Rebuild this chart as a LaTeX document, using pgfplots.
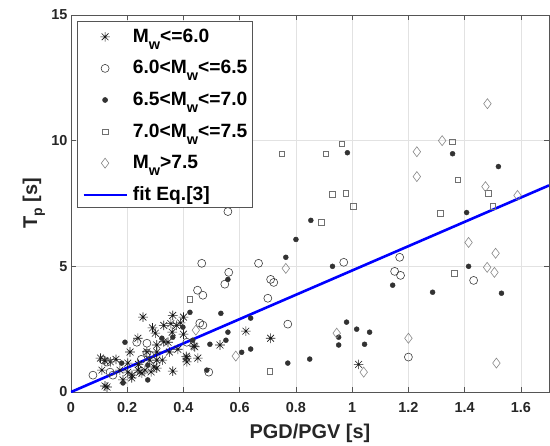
\documentclass[border=0pt]{standalone}
\usepackage{fontspec}
\setmainfont{Liberation Sans}
\usepackage{pgfplots}
\pgfplotsset{compat=1.18}
\usetikzlibrary{plotmarks}

\definecolor{axgray}{RGB}{85,85,85}
\definecolor{gridgray}{RGB}{226,226,226}
\definecolor{circgray}{RGB}{60,60,60}
\definecolor{dotgray}{RGB}{50,50,50}
\definecolor{sqgray}{RGB}{112,112,112}
\definecolor{diagray}{RGB}{135,135,135}
\definecolor{fitblue}{RGB}{0,0,255}

% MATLAB-like asterisk: plus and cross together
\pgfdeclareplotmark{mast}{%
  \pgfpathmoveto{\pgfqpoint{-\pgfplotmarksize}{0pt}}\pgfpathlineto{\pgfqpoint{\pgfplotmarksize}{0pt}}%
  \pgfpathmoveto{\pgfqpoint{0pt}{-\pgfplotmarksize}}\pgfpathlineto{\pgfqpoint{0pt}{\pgfplotmarksize}}%
  \pgfpathmoveto{\pgfqpoint{-.7071\pgfplotmarksize}{-.7071\pgfplotmarksize}}\pgfpathlineto{\pgfqpoint{.7071\pgfplotmarksize}{.7071\pgfplotmarksize}}%
  \pgfpathmoveto{\pgfqpoint{-.7071\pgfplotmarksize}{.7071\pgfplotmarksize}}\pgfpathlineto{\pgfqpoint{.7071\pgfplotmarksize}{-.7071\pgfplotmarksize}}%
  \pgfusepathqstroke}

\newcommand{\subw}{\smash{\raisebox{-7bp}{\fontsize{14.5}{14}\selectfont w}}}

\begin{document}
\begin{tikzpicture}
\begin{axis}[
    scale only axis,
    width=478bp, height=377bp,
    xmin=0, xmax=1.7, ymin=0, ymax=15,
    xtick={0,0.2,0.4,0.6,0.8,1,1.2,1.4,1.6},
    xticklabels={0,0.2,0.4,0.6,0.8,1,1.2,1.4,1.6},
    ytick={0,5,10,15},
    yticklabels={0,5,10,15},
    grid=major,
    major grid style={gridgray, line width=0.6bp},
    tick align=inside,
    major tick length=5bp,
    axis line style={axgray, line width=0.6bp},
    tick style={axgray, line width=0.6bp},
    ticklabel style={font=\fontsize{14.5}{16}\selectfont\bfseries, text=black!85},
    xticklabel style={yshift=-7bp},
    xlabel={PGD/PGV [s]},
    ylabel={T\smash{\raisebox{-5bp}{\fontsize{14}{14}\selectfont p}} [s]},
    every axis x label/.style={at={(rel axis cs:0.5,0)}, yshift=-41bp, anchor=center,
        font=\fontsize{20}{22}\selectfont\bfseries, text=black!85},
    every axis y label/.style={at={(rel axis cs:0,0.5)}, xshift=-39bp, rotate=90, anchor=center,
        font=\fontsize{20}{22}\selectfont\bfseries, text=black!85},
    legend image code/.code={\draw[mark repeat=2,mark phase=2,#1] plot coordinates {(0bp,-1.5bp) (21.5bp,-1.5bp) (43bp,-1.5bp)};},
    legend style={at={(6/478,1-6/377)}, anchor=north west,
        draw=axgray, line width=0.6bp, fill=white,
        font=\fontsize{19.3}{21}\selectfont\bfseries,
        inner xsep=5bp, inner ysep=3bp, row sep=9.6bp, column sep=5bp,
        nodes={inner sep=0pt, text height=18bp, text depth=4bp}},
    legend cell align=left,
]
% Mw <= 6.0
\addplot[only marks, mark=mast, mark size=4.8bp, black!90, line width=0.6bp] coordinates {
(0.11,0.87) (0.128,0.2) (0.121,0.24) (0.105,1.35) (0.12,1.25) (0.14,1.2) (0.174,0.87)
(0.185,0.48) (0.21,1.59) (0.238,2.14) (0.217,0.67) (0.238,0.87) (0.252,0.75) (0.256,2.98)
(0.28,1.27) (0.295,1.0) (0.305,1.27) (0.325,1.27) (0.263,0.87) (0.30,2.34) (0.305,1.87)
(0.305,1.59) (0.35,1.59) (0.345,1.98) (0.36,2.38) (0.33,2.65) (0.355,2.72) (0.375,2.65)
(0.39,2.75) (0.362,3.05) (0.40,2.98) (0.412,1.35) (0.412,1.2) (0.44,1.8) (0.451,1.35)
(0.362,0.83) (0.53,1.87) (0.622,2.42) (0.71,2.14) (1.023,1.1) (0.437,1.83) (0.202,1.15)
(0.24,1.1) (0.16,1.3) (0.27,1.6) (0.33,2.0) (0.29,2.55) (0.38,1.7) (0.202,0.79)
(0.216,0.56) (0.245,0.79) (0.305,0.95) (0.285,0.8) (0.41,1.42) (0.40,2.3)
};
\addlegendentry{M\subw<=6.0}
% 6.0 < Mw <= 6.5
\addplot[only marks, mark=o, mark size=4bp, circgray, line width=0.6bp] coordinates {
(0.078,0.67) (0.114,1.27) (0.128,1.19) (0.139,0.79) (0.149,0.67) (0.234,1.98) (0.27,1.94)
(0.27,1.55) (0.28,1.47) (0.412,1.98) (0.458,2.74) (0.469,2.66)
(0.45,4.05) (0.469,3.85) (0.465,5.12) (0.547,4.29) (0.561,4.76) (0.558,7.18) (0.667,5.12)
(0.71,4.48) (0.721,4.36) (0.70,3.73) (0.771,2.7) (0.49,0.79) (0.97,5.16) (1.151,4.8)
(1.169,5.36) (1.172,4.64) (1.432,4.44) (1.20,1.39) (0.25,1.3)
};
\addlegendentry{6.0<M\subw<=6.5}
% 6.5 < Mw <= 7.0
\addplot[only marks, mark=*, mark size=2.5bp, dotgray, mark options={fill=dotgray}] coordinates {
(0.185,0.36) (0.18,1.15) (0.192,1.98) (0.273,0.48) (0.273,1.07) (0.323,2.14) (0.362,2.18)
(0.398,2.58) (0.433,2.06) (0.423,3.17) (0.483,0.87) (0.494,1.9) (0.533,3.13) (0.551,2.06)
(0.558,2.38) (0.558,4.48) (0.607,1.58) (0.639,1.71) (0.639,2.94) (0.764,5.36) (0.80,6.07)
(0.853,6.83) (0.771,1.15) (0.849,1.31) (0.93,5.0) (0.952,1.87) (0.952,2.18) (0.98,2.78)
(0.983,9.52) (1.016,2.5) (1.044,1.9) (1.062,2.38) (1.144,4.25) (1.286,3.97) (1.357,9.48)
(1.407,7.14) (1.414,5.0) (1.52,8.97) (1.531,3.93)
};
\addlegendentry{6.5<M\subw<=7.0}
% 7.0 < Mw <= 7.5
\addplot[only marks, mark=square, mark size=2.8bp, sqgray, line width=0.6bp] coordinates {
(0.423,3.69) (0.707,0.83) (0.75,9.48) (0.89,6.75) (0.906,9.48) (0.93,7.86) (0.963,9.88)
(0.977,7.9) (1.005,7.38) (1.314,7.1) (1.357,9.96) (1.364,4.72) (1.375,8.45) (1.485,7.9)
(1.5,7.38)
};
\addlegendentry{7.0<M\subw<=7.5}
% Mw > 7.5
\addplot[only marks, mark=diamond, mark size=5bp, diagray, line width=0.6bp] coordinates {
(0.444,2.46) (0.586,1.43) (0.764,4.92) (0.945,2.34) (1.041,0.79) (1.20,2.14) (1.23,9.56)
(1.23,8.57) (1.32,10.0) (1.414,5.95) (1.474,8.17) (1.481,11.47) (1.48,4.96) (1.506,4.76)
(1.51,5.52) (1.513,1.15) (1.588,7.82)
};
\addlegendentry{M\subw>7.5}
% fit
\addplot[fitblue, line width=2.6bp, no marks] coordinates {(0,0) (1.7,8.22)};
\addlegendentry{fit Eq.[3]}
\end{axis}
\path (current axis.south west) ++(-71bp,-53bp) rectangle ([xshift=1bp,yshift=15bp]current axis.north east);
\end{tikzpicture}
\end{document}
